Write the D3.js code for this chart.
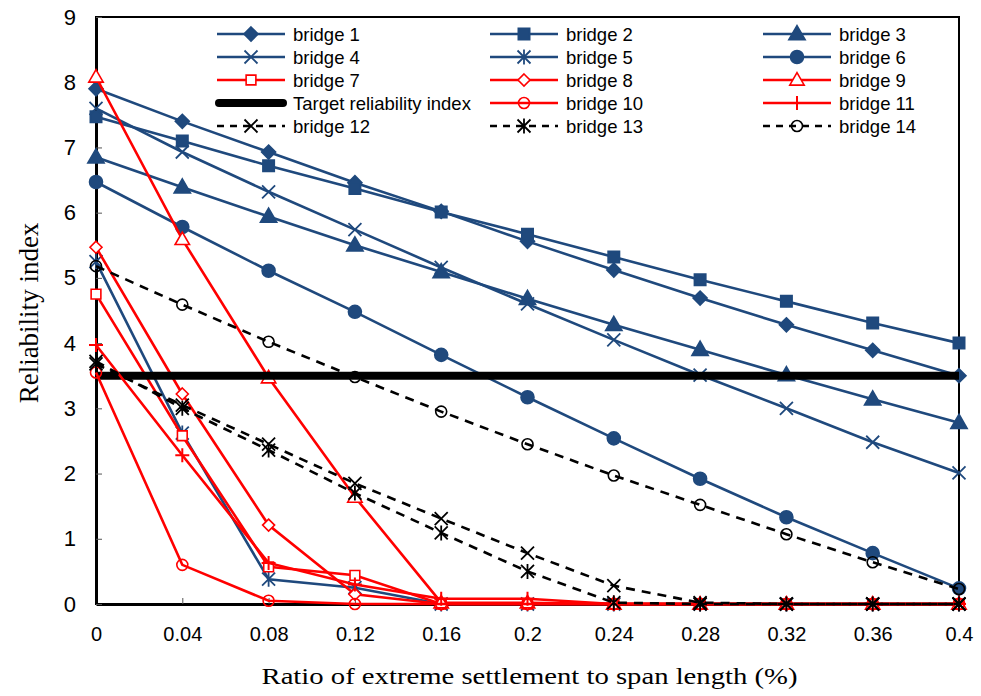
<!DOCTYPE html>
<html>
<head>
<meta charset="utf-8">
<script src="https://cdn.jsdelivr.net/npm/d3@7"></script>
<style>
  html, body { margin: 0; padding: 0; background: #fff; }
  svg { display: block; }
</style>
</head>
<body>
<svg id="chart" width="981" height="696"></svg>
<script>
// ---------- data ----------
const ratio = [0, 0.04, 0.08, 0.12, 0.16, 0.2, 0.24, 0.28, 0.32, 0.36, 0.4];
const xTickLabels = ["0", "0.04", "0.08", "0.12", "0.16", "0.2", "0.24", "0.28", "0.32", "0.36", "0.4"];
const yTicks = [0, 1, 2, 3, 4, 5, 6, 7, 8, 9];

const bridge1  = [7.90, 7.40, 6.93, 6.46, 6.02, 5.56, 5.12, 4.69, 4.28, 3.89, 3.50];
const bridge2  = [7.47, 7.10, 6.72, 6.37, 6.01, 5.67, 5.32, 4.97, 4.64, 4.31, 4.00];
const bridge3  = [6.85, 6.39, 5.94, 5.50, 5.09, 4.68, 4.28, 3.90, 3.51, 3.14, 2.78];
const bridge4  = [7.60, 6.93, 6.32, 5.74, 5.16, 4.60, 4.05, 3.51, 3.00, 2.48, 2.01];
const bridge5  = [5.25, 2.62, 0.38, 0.25, 0, 0, 0, 0, 0, 0, 0];
const bridge6  = [6.47, 5.78, 5.11, 4.48, 3.82, 3.17, 2.54, 1.92, 1.33, 0.78, 0.24];
const bridge7  = [4.75, 2.58, 0.57, 0.44, 0, 0, 0, 0, 0, 0, 0];
const bridge8  = [5.47, 3.22, 1.21, 0.15, 0, 0, 0, 0, 0, 0, 0];
const bridge9  = [8.08, 5.59, 3.47, 1.64, 0.02, 0.02, 0, 0, 0, 0, 0];
const target   = [3.5, 3.5, 3.5, 3.5, 3.5, 3.5, 3.5, 3.5, 3.5, 3.5, 3.5];
const bridge10 = [3.55, 0.60, 0.05, 0, 0, 0, 0, 0, 0, 0, 0];
const bridge11 = [3.97, 2.28, 0.63, 0.30, 0.08, 0.08, 0, 0, 0, 0, 0];
const bridge12 = [3.68, 3.05, 2.45, 1.85, 1.31, 0.78, 0.28, 0.02, 0, 0, 0];
const bridge13 = [3.72, 3.00, 2.36, 1.70, 1.09, 0.50, 0.02, 0, 0, 0, 0];
const bridge14 = [5.18, 4.59, 4.02, 3.48, 2.95, 2.45, 1.97, 1.52, 1.07, 0.64, 0.23];

const seriesNames = ["bridge 1", "bridge 2", "bridge 3", "bridge 4", "bridge 5", "bridge 6",
  "bridge 7", "bridge 8", "bridge 9", "Target reliability index", "bridge 10", "bridge 11",
  "bridge 12", "bridge 13", "bridge 14"];
const seriesValues = [bridge1, bridge2, bridge3, bridge4, bridge5, bridge6, bridge7, bridge8,
  bridge9, target, bridge10, bridge11, bridge12, bridge13, bridge14];

// ---------- styles ----------
const NAVY = "#1F497D", RED = "#FF0000", BLACK = "#000";
const DASH = "9,7";
const seriesStyles = [
  {color: NAVY, marker: "diamond", fill: true},
  {color: NAVY, marker: "square", fill: true},
  {color: NAVY, marker: "triangle", fill: true},
  {color: NAVY, marker: "x"},
  {color: NAVY, marker: "asterisk"},
  {color: NAVY, marker: "circle", fill: true},
  {color: RED, marker: "square", fill: false},
  {color: RED, marker: "diamond", fill: false},
  {color: RED, marker: "triangle", fill: false},
  {color: BLACK, marker: null, width: 8},
  {color: RED, marker: "circle", fill: false},
  {color: RED, marker: "plus"},
  {color: BLACK, marker: "x", dash: DASH, width: 2.6},
  {color: BLACK, marker: "asterisk", dash: DASH, width: 2.6},
  {color: BLACK, marker: "circle", fill: false, dash: DASH, width: 2.6},
];

const svg = d3.select("#chart");
const margin = {left: 96, right: 22, top: 17, bottom: 92};
const W = 981, H = 696;
const x = d3.scaleLinear().domain([0, 0.4]).range([margin.left, W - margin.right]);
const y = d3.scaleLinear().domain([0, 9]).range([H - margin.bottom, margin.top]);

// frame
svg.append("rect")
  .attr("x", x(0)).attr("y", y(9))
  .attr("width", x(0.4) - x(0)).attr("height", y(0) - y(9))
  .attr("fill", "none").attr("stroke", "#000").attr("stroke-width", 2);

// axes
const xAxis = d3.axisBottom(x).tickValues(ratio).tickSizeInner(-6).tickSizeOuter(0)
  .tickFormat((d, i) => xTickLabels[i]).tickPadding(23);
const gx = svg.append("g").attr("transform", `translate(0,${y(0)})`).call(xAxis);
const yAxis = d3.axisLeft(y).tickValues(yTicks).tickSizeInner(-6).tickSizeOuter(0)
  .tickFormat(d3.format("d")).tickPadding(20);
const gy = svg.append("g").attr("transform", `translate(${x(0)},0)`).call(yAxis);
[gx, gy].forEach(g => {
  g.select(".domain").attr("stroke", "#000").attr("stroke-width", 3);
  g.selectAll(".tick line").attr("stroke", "#555").attr("stroke-width", 1);
  g.selectAll(".tick text").attr("fill", "#000")
    .style("font-family", "'Liberation Sans', Arial, sans-serif");
});
gx.selectAll(".tick text").style("font-size", "20px").attr("dy", "0.71em");
gy.selectAll(".tick text").style("font-size", "22px");

// axis titles
svg.append("text")
  .attr("x", (x(0) + x(0.4)) / 2 + 2).attr("y", 684)
  .attr("text-anchor", "middle")
  .attr("textLength", 536).attr("lengthAdjust", "spacingAndGlyphs")
  .style("font-family", "'Liberation Serif', 'Times New Roman', serif").style("font-size", "24px")
  .text("Ratio of extreme settlement to span length (%)");
svg.append("text")
  .attr("transform", `translate(38,${313}) rotate(-90)`)
  .attr("text-anchor", "middle")
  .style("font-family", "'Liberation Serif', 'Times New Roman', serif").style("font-size", "27px")
  .text("Reliability index");

// marker drawing
function drawMarker(g, type, cx, cy, st) {
  const sw = 1.6;
  if (type === "diamond") {
    const r = st.fill ? 7 : 6;
    g.append("path").attr("d", `M${cx},${cy - r}L${cx + r},${cy}L${cx},${cy + r}L${cx - r},${cy}Z`)
      .attr("fill", st.fill ? st.color : "#fff").attr("stroke", st.color).attr("stroke-width", sw);
  } else if (type === "square") {
    g.append("path").attr("d", d3.symbol(d3.symbolSquare, st.fill ? 130 : 95)())
      .attr("transform", `translate(${cx},${cy})`)
      .attr("fill", st.fill ? st.color : "#fff").attr("stroke", st.color).attr("stroke-width", sw);
  } else if (type === "triangle") {
    g.append("path").attr("d", d3.symbol(d3.symbolTriangle, st.fill ? 115 : 90)())
      .attr("transform", `translate(${cx},${cy + 1})`)
      .attr("fill", st.fill ? st.color : "#fff").attr("stroke", st.color).attr("stroke-width", sw);
  } else if (type === "circle") {
    g.append("circle").attr("cx", cx).attr("cy", cy).attr("r", st.fill ? 6.5 : 5.5)
      .attr("fill", st.fill ? st.color : "none").attr("stroke", st.color).attr("stroke-width", sw);
  } else if (type === "x" || type === "asterisk") {
    const r = 6.5;
    const d = `M${cx - r},${cy - r}L${cx + r},${cy + r}M${cx - r},${cy + r}L${cx + r},${cy - r}` +
      (type === "asterisk" ? `M${cx},${cy - r - 1}L${cx},${cy + r + 1}` : "");
    g.append("path").attr("d", d).attr("fill", "none").attr("stroke", st.color).attr("stroke-width", 1.8);
  } else if (type === "plus") {
    const r = 7;
    g.append("path").attr("d", `M${cx - r},${cy}L${cx + r},${cy}M${cx},${cy - r}L${cx},${cy + r}`)
      .attr("fill", "none").attr("stroke", st.color).attr("stroke-width", 2);
  }
}

const line = d3.line().x((d, i) => x(ratio[i])).y(d => y(d));
const plot = svg.append("g");
seriesValues.forEach((vals, si) => {
  const st = seriesStyles[si];
  const g = plot.append("g");
  g.append("path").attr("d", line(vals))
    .attr("fill", "none").attr("stroke", st.color)
    .attr("stroke-width", st.width || 2.6)
    .attr("stroke-dasharray", st.dash || null);
  if (st.marker) vals.forEach((v, i) => drawMarker(g, st.marker, x(ratio[i]), y(v), st));
});

// legend
const legend = svg.append("g");
const colX = [217, 490, 763];
const rowY = [34, 57, 80, 103, 126];
seriesNames.forEach((name, i) => {
  const st = seriesStyles[i];
  const cx0 = colX[i % 3], cy = rowY[Math.floor(i / 3)];
  const g = legend.append("g");
  if (st.width === 8) {
    g.append("line").attr("x1", cx0 + 2).attr("x2", cx0 + 66).attr("y1", cy).attr("y2", cy)
      .attr("stroke", st.color).attr("stroke-width", 8).attr("stroke-linecap", "round");
  } else {
    g.append("line").attr("x1", cx0).attr("x2", cx0 + 68).attr("y1", cy).attr("y2", cy)
      .attr("stroke", st.color).attr("stroke-width", st.width || 2.6)
      .attr("stroke-dasharray", st.dash ? "7,6" : null);
  }
  if (st.marker) drawMarker(g, st.marker, cx0 + 34, cy, st);
  g.append("text").attr("x", cx0 + 76).attr("y", cy).attr("dy", "0.36em")
    .style("font-family", "'Liberation Sans', Arial, sans-serif").style("font-size", "18.5px")
    .text(name);
});
</script>
</body>
</html>
